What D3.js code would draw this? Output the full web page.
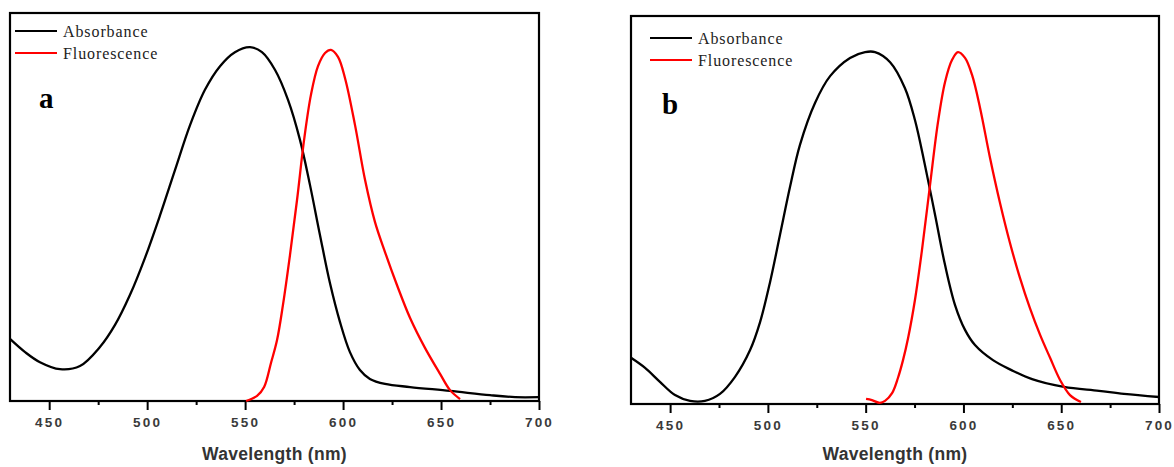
<!DOCTYPE html>
<html>
<head>
<meta charset="utf-8">
<script src="https://cdn.jsdelivr.net/npm/d3@7"></script>
<style>
  html, body { margin: 0; padding: 0; background: #fff; }
  svg { display: block; }
</style>
</head>
<body>
<script>
// ---------- DATA ----------
const majorTicks = [450, 500, 550, 600, 650, 700];
const minorTicks = [475, 525, 575, 625, 675];
const xDomain = [430, 700];
const seriesNames = ["Absorbance", "Fluorescence"];
const panelLabels = ["a", "b"];
const axisTitle = "Wavelength (nm)";

// panel a  [wavelength nm, normalized intensity]
const absorbanceA = [
  [430, 0.160], [437.7, 0.126], [445.3, 0.100], [455.5, 0.082], [465.7, 0.090],
  [475.9, 0.139], [483.6, 0.196], [491.2, 0.273], [498.9, 0.369], [506.6, 0.479],
  [514.2, 0.595], [521.9, 0.711], [529.5, 0.802], [537.2, 0.863], [544.8, 0.899],
  [552.5, 0.912], [558.6, 0.899], [565.3, 0.853], [571.9, 0.776], [578.0, 0.673],
  [583.1, 0.557], [588.2, 0.428], [593.3, 0.304], [598.4, 0.204], [603.5, 0.126],
  [608.6, 0.080], [613.7, 0.057], [621.4, 0.044], [634.2, 0.036], [654.6, 0.026],
  [675.0, 0.015], [687.8, 0.010], [700, 0.010]
];
const fluorescenceA = [
  [550.5, 0.000], [556.1, 0.013], [559.7, 0.036], [563.2, 0.098], [566.3, 0.157],
  [569.3, 0.247], [572.9, 0.376], [576.5, 0.518], [580.1, 0.673], [583.6, 0.789],
  [587.2, 0.863], [590.8, 0.897], [593.8, 0.905], [597.4, 0.887], [601.0, 0.832],
  [606.1, 0.711], [611.2, 0.570], [616.3, 0.461], [621.4, 0.384], [627.5, 0.299],
  [634.2, 0.214], [641.8, 0.137], [649.5, 0.070], [654.6, 0.028], [659.7, 0.005]
];

// panel b
const absorbanceB = [
  [430, 0.119], [437.2, 0.093], [444.8, 0.057], [452.5, 0.023], [460.2, 0.008],
  [467.8, 0.008], [475.5, 0.026], [483.2, 0.070], [490.9, 0.139], [496.0, 0.211],
  [501.1, 0.314], [506.2, 0.436], [511.3, 0.559], [516.4, 0.668], [524.1, 0.776],
  [531.8, 0.845], [542.0, 0.892], [549.7, 0.907], [554.8, 0.907], [562.5, 0.881],
  [570.1, 0.814], [575.2, 0.732], [580.3, 0.616], [585.5, 0.487], [590.6, 0.358],
  [595.7, 0.255], [600.8, 0.191], [605.9, 0.152], [615.1, 0.113], [624.3, 0.088],
  [635.1, 0.064], [651.4, 0.044], [669.3, 0.034], [682.1, 0.026], [700, 0.018]
];
const fluorescenceB = [
  [550.2, 0.013], [553.2, 0.010], [557.3, 0.003], [559.9, 0.008], [563.5, 0.028],
  [566.5, 0.067], [569.1, 0.113], [571.7, 0.170], [575.2, 0.268], [578.8, 0.397],
  [582.9, 0.564], [587.0, 0.727], [590.6, 0.830], [594.2, 0.887], [597.2, 0.907],
  [600.8, 0.892], [604.4, 0.848], [608.5, 0.763], [613.6, 0.634], [618.7, 0.518],
  [623.8, 0.415], [628.9, 0.325], [634.0, 0.247], [639.2, 0.178], [644.3, 0.119],
  [649.4, 0.062], [654.5, 0.023], [660.1, 0.005]
];

// ---------- LAYOUT ----------
const W = 1174, H = 467;
const panels = [
  { x0: 10, x1: 539, y0: 13, y1: 401, abs: absorbanceA, flu: fluorescenceA, label: panelLabels[0],
    legX: 15, legY: 31, labX: 39, labY: 108 },
  { x0: 631, x1: 1159, y0: 16, y1: 404, abs: absorbanceB, flu: fluorescenceB, label: panelLabels[1],
    legX: 650, legY: 38, labX: 662, labY: 114 }
];
const colors = ["#000000", "#ff0000"];

const svg = d3.select("body").append("svg").attr("width", W).attr("height", H);

panels.forEach(p => {
  const x = d3.scaleLinear().domain(xDomain).range([p.x0, p.x1]);
  const y = d3.scaleLinear().domain([0, 1]).range([p.y1, p.y0]);
  const g = svg.append("g");

  // minor ticks
  const minorAxis = d3.axisBottom(x).tickValues(minorTicks).tickSize(4).tickFormat("").tickSizeOuter(0);
  const gm = g.append("g").attr("transform", `translate(0,${p.y1})`).call(minorAxis);
  gm.select(".domain").remove();
  gm.selectAll(".tick line").attr("stroke", "#000").attr("stroke-width", 2);

  // major ticks
  const majorAxis = d3.axisBottom(x).tickValues(majorTicks).tickSize(9).tickSizeOuter(0).tickPadding(7);
  const ga = g.append("g").attr("transform", `translate(0,${p.y1})`).call(majorAxis);
  ga.select(".domain").remove();
  ga.selectAll(".tick line").attr("stroke", "#000").attr("stroke-width", 2);
  ga.selectAll(".tick text")
    .attr("fill", "#3a3a3a")
    .style("font-family", "Arial, 'Liberation Sans', sans-serif")
    .style("font-weight", "bold")
    .style("font-size", "13.5px")
    .style("letter-spacing", "2.2px");

  // frame
  g.append("rect")
    .attr("x", p.x0).attr("y", p.y0)
    .attr("width", p.x1 - p.x0).attr("height", p.y1 - p.y0)
    .attr("fill", "none").attr("stroke", "#000").attr("stroke-width", 2.2);

  // curves
  const line = d3.line().x(d => x(d[0])).y(d => y(d[1])).curve(d3.curveCatmullRom.alpha(0.5));
  [p.abs, p.flu].forEach((s, i) => {
    g.append("path").datum(s).attr("d", line)
      .attr("fill", "none").attr("stroke", colors[i]).attr("stroke-width", 2.3)
      .attr("stroke-linejoin", "round");
  });

  // legend
  seriesNames.forEach((name, i) => {
    const ly = p.legY + i * 22;
    g.append("line").attr("x1", p.legX).attr("x2", p.legX + 42).attr("y1", ly).attr("y2", ly)
      .attr("stroke", colors[i]).attr("stroke-width", 2.2);
    g.append("text").attr("x", p.legX + 48).attr("y", ly + 5.5)
      .text(name)
      .attr("fill", "#222")
      .style("font-family", "'Liberation Serif', 'Times New Roman', serif")
      .style("font-size", "16px")
      .style("letter-spacing", "0.9px");
  });

  // panel label
  g.append("text").attr("x", p.labX).attr("y", p.labY).text(p.label)
    .attr("fill", "#000")
    .style("font-family", "'Liberation Serif', 'Times New Roman', serif")
    .style("font-weight", "bold")
    .style("font-size", "29px");

  // axis title
  g.append("text")
    .attr("x", (p.x0 + p.x1) / 2).attr("y", 460)
    .attr("text-anchor", "middle")
    .text(axisTitle)
    .attr("fill", "#333")
    .style("font-family", "Arial, 'Liberation Sans', sans-serif")
    .style("font-weight", "bold")
    .style("font-size", "17.5px")
    .style("letter-spacing", "0.3px");
});
</script>
</body>
</html>
